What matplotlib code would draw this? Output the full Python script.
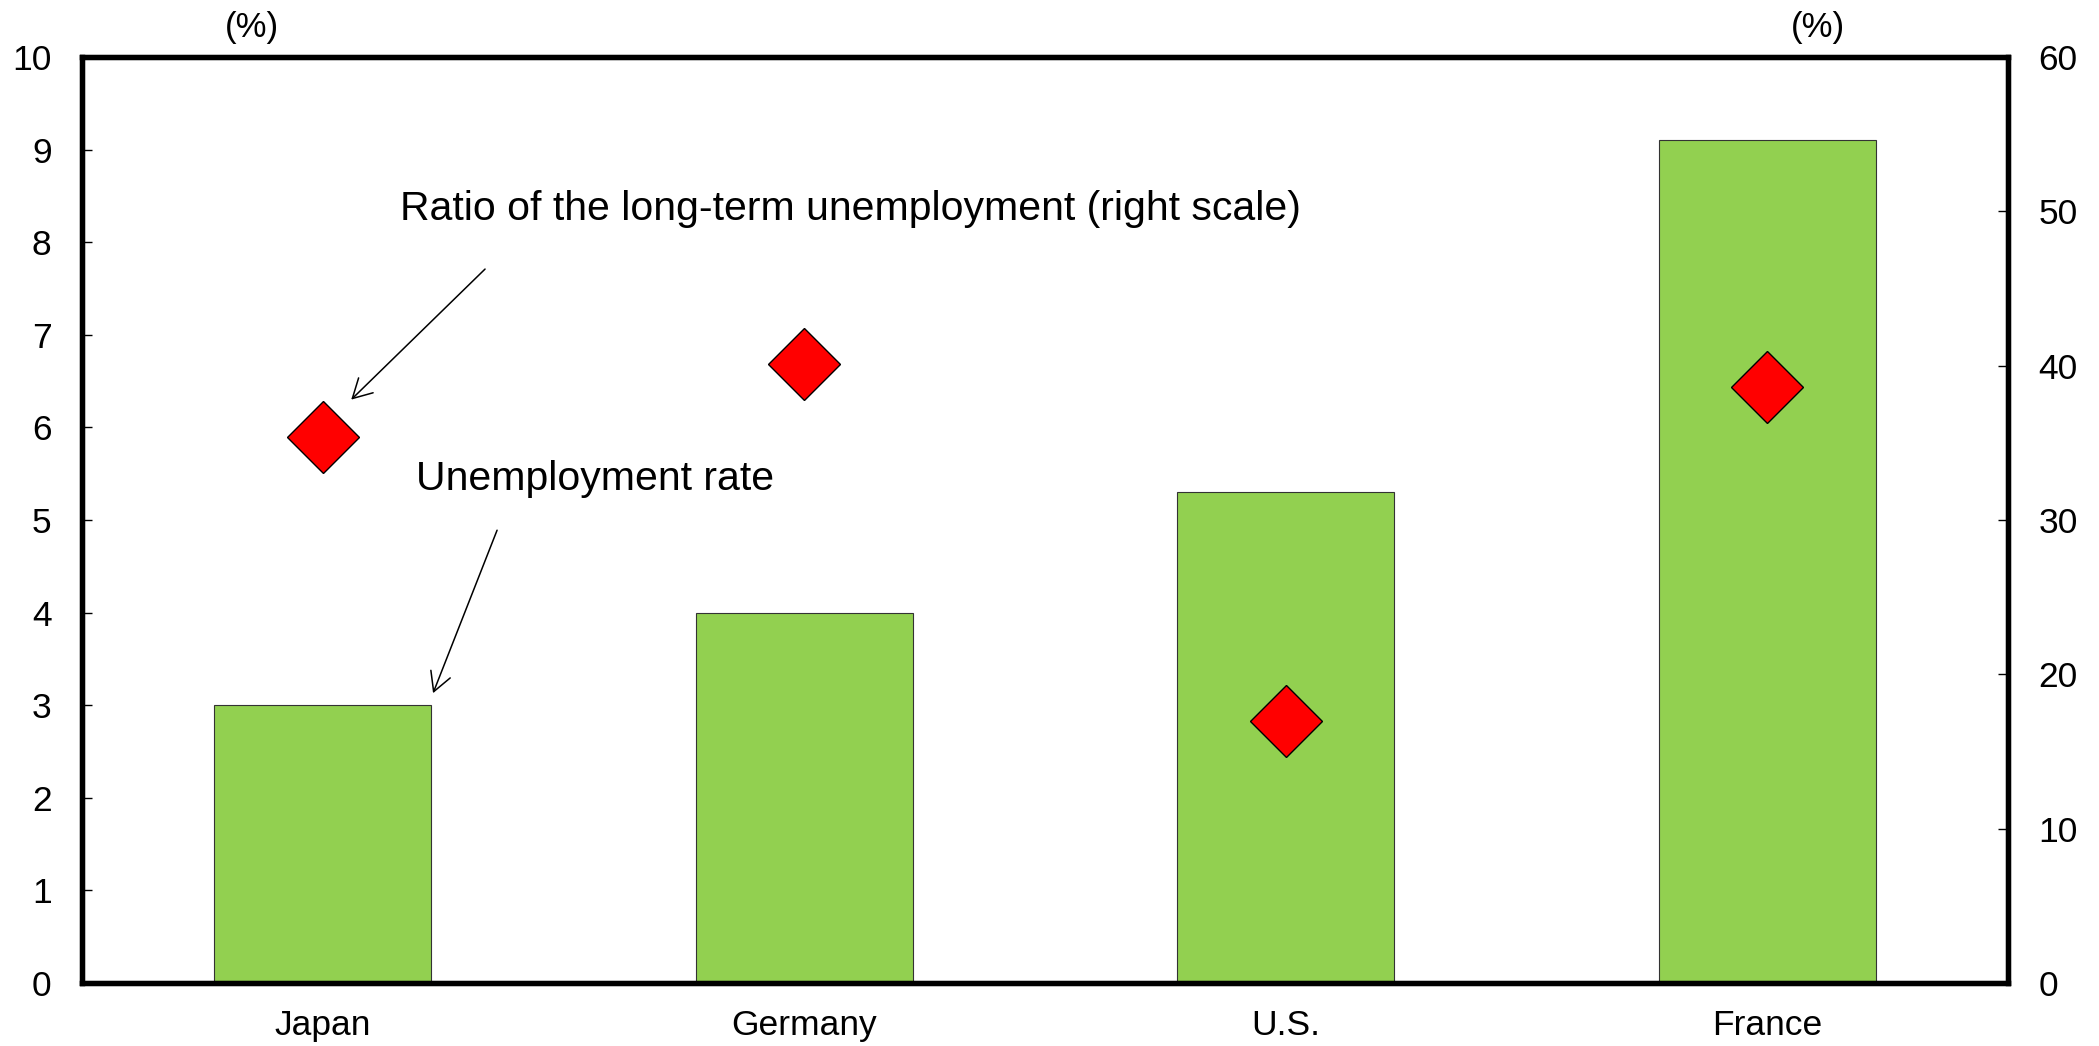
import matplotlib
matplotlib.use('Agg')
import matplotlib.pyplot as plt
import numpy as np

plt.rcParams['font.family'] = ['Liberation Sans', 'DejaVu Sans']

# Unemployment rate (left scale) and share of long-term unemployed (right scale)
countries = ['Japan', 'Germany', 'U.S.', 'France']
unemploymentRate = [3.0, 4.0, 5.3, 9.1]
longTermRatio = [35.4, 40.1, 17.0, 38.6]

leftTicks = list(range(0, 11))
rightTicks = list(range(0, 61, 10))

fig = plt.figure(figsize=(20.99, 10.46), dpi=100)
ax = fig.add_axes([0.0391, 0.0602, 0.9175, 0.8853])
ax2 = ax.twinx()

x = np.arange(len(countries))

# Bars for the unemployment rate
ax.bar(x, unemploymentRate, width=0.45, color='#92D050', edgecolor='#333333', linewidth=0.8, zorder=2)
ax.set_xlim(-0.5, 3.5)
ax.set_ylim(0, 10)
ax.set_yticks(leftTicks)
ax.set_xticks(x)
ax.set_xticklabels(countries)

# Diamonds for the long-term ratio
ax2.plot(x, longTermRatio, linestyle='none', marker='D', markersize=37,
         markerfacecolor='#FF0000', markeredgecolor='black', markeredgewidth=1.0, zorder=3)
ax2.set_ylim(0, 60)
ax2.set_yticks(rightTicks)

# Axis styling
for a in (ax, ax2):
    for side in a.spines:
        a.spines[side].set_linewidth(3.8)
        a.spines[side].set_color('black')

ax.tick_params(axis='y', direction='in', length=7, width=1.0, labelsize=25.5, pad=22)
ax.tick_params(axis='x', length=0, labelsize=25.5, pad=19)
ax2.tick_params(axis='y', direction='in', length=7, width=1.0, labelsize=25.5, pad=22)

# Unit labels above each scale
fig.text(252 / 2099, 1 - 27 / 1046, '(%)', fontsize=25, ha='center', va='center')
fig.text(1818 / 2099, 1 - 27 / 1046, '(%)', fontsize=25, ha='center', va='center')

# Annotations with arrows
arrowStyle = dict(arrowstyle='->,head_length=0.4,head_width=0.22', lw=1.1, color='black',
                  mutation_scale=34, shrinkA=0, shrinkB=0)

ax.text(0.160, 8.36, 'Ratio of the long-term unemployment (right scale)', fontsize=29.5,
        ha='left', va='center')
ax.annotate('', xy=(0.059, 6.3), xytext=(0.337, 7.71), arrowprops=arrowStyle)

ax.text(0.194, 5.44, 'Unemployment rate', fontsize=29.5, ha='left', va='center')
ax.annotate('', xy=(0.229, 3.13), xytext=(0.362, 4.89), arrowprops=arrowStyle)

plt.savefig('out.png', dpi=100)
